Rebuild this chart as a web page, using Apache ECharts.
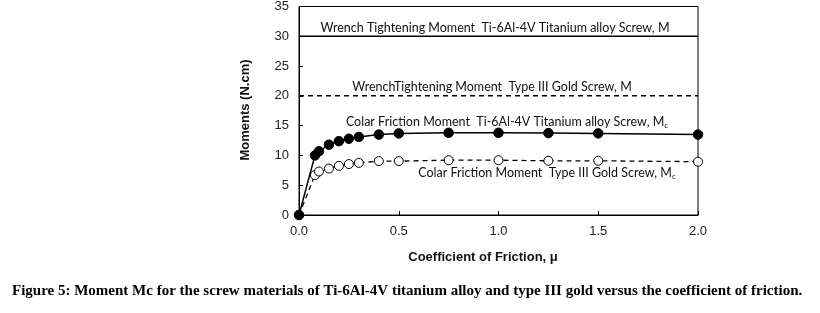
<!DOCTYPE html>
<html><head><meta charset="utf-8">
<script src="https://cdn.jsdelivr.net/npm/echarts@6/dist/echarts.min.js"></script>
<style>html,body{margin:0;padding:0;background:#fff}#c{width:820px;height:313px}</style>
</head><body><div id="c"></div>
<script>
const frictionX = [0, 0.08, 0.1, 0.15, 0.2, 0.25, 0.3, 0.4, 0.5, 0.75, 1.0, 1.25, 1.5, 2.0];
const tiColar = [0, 10.0, 10.7, 11.8, 12.4, 12.8, 13.1, 13.5, 13.7, 13.8, 13.8, 13.75, 13.7, 13.5];
const goldColar = [0, 6.7, 7.3, 7.8, 8.25, 8.55, 8.75, 9.05, 9.05, 9.2, 9.2, 9.1, 9.1, 8.95];
const wrenchX = [0, 2.0];
const tiWrench = [30, 30];
const goldWrench = [20, 20];
const xTicks = ['0.0','0.5','1.0','1.5','2.0'];
const yTicks = [0,5,10,15,20,25,30,35];

const pair = (xs, ys) => xs.map((x,i)=>[x, ys[i]]);
const chart = echarts.init(document.getElementById('c'));
const annoFont = 'Lato, "Open Sans", sans-serif';
chart.setOption({
  animation: false,
  grid: {left: 299, right: 122, top: 6, bottom: 98, show: true, borderColor: '#000', borderWidth: 1},
  xAxis: {type: 'value', min: 0, max: 2, interval: 0.5,
    axisLine: {show: true, lineStyle: {color: '#000', width: 1}},
    axisTick: {show: true, inside: true, length: 4, lineStyle: {color: '#000'}},
    splitLine: {show: false},
    axisLabel: {color: '#222', fontFamily: 'Arial, "Liberation Sans"', fontSize: 13, margin: 10,
      formatter: v => xTicks[Math.round(v/0.5)] }},
  yAxis: {type: 'value', min: 0, max: 35, interval: 5,
    axisLine: {show: true, lineStyle: {color: '#000', width: 1}},
    axisTick: {show: true, inside: true, length: 4, lineStyle: {color: '#000'}},
    splitLine: {show: false},
    axisLabel: {color: '#222', fontFamily: 'Arial, "Liberation Sans"', fontSize: 13, margin: 10,
      formatter: v => String(yTicks[Math.round(v/5)]) }},
  series: [
    {type: 'line', data: pair(wrenchX, tiWrench), symbol: 'none', lineStyle: {color: '#000', width: 1.5}},
    {type: 'line', data: pair(wrenchX, goldWrench), symbol: 'none', lineStyle: {color: '#000', width: 1.5, type: [5,4]}},
    {type: 'line', data: pair(frictionX, goldColar), symbol: 'circle', symbolSize: 9,
      itemStyle: {color: '#fff', borderColor: '#000', borderWidth: 1},
      lineStyle: {color: '#000', width: 1.3, type: [5,4]}, z: 3},
    {type: 'line', data: pair(frictionX, tiColar), symbol: 'circle', symbolSize: 9.5,
      itemStyle: {color: '#000', borderColor: '#000'},
      lineStyle: {color: '#000', width: 1.5}, z: 4}
  ],
  graphic: [
    {type: 'text', x: 495, y: 28, style: {text: 'Wrench Tightening Moment  Ti-6Al-4V Titanium alloy Screw, M', font: '12.5px ' + annoFont, fill: '#111', align: 'center', verticalAlign: 'middle'}},
    {type: 'text', x: 492, y: 87, style: {text: 'WrenchTightening Moment  Type III Gold Screw, M', font: '12.5px ' + annoFont, fill: '#111', align: 'center', verticalAlign: 'middle'}},
    {type: 'text', x: 507, y: 122, style: {text: '{n|Colar Friction Moment  Ti-6Al-4V Titanium alloy Screw, M}{s|c}', align: 'center', verticalAlign: 'middle',
      rich: {n: {font: '12.5px ' + annoFont, fill: '#111'}, s: {font: '8px ' + annoFont, fill: '#111', padding: [6,0,0,0]}}}},
    {type: 'text', x: 547, y: 173, style: {text: '{n|Colar Friction Moment  Type III Gold Screw, M}{s|c}', align: 'center', verticalAlign: 'middle',
      rich: {n: {font: '12.5px ' + annoFont, fill: '#111'}, s: {font: '8px ' + annoFont, fill: '#111', padding: [6,0,0,0]}}}},
    {type: 'text', x: 245, y: 110, rotation: Math.PI/2, style: {text: 'Moments (N.cm)', font: 'bold 13px Arial, "Liberation Sans"', fill: '#111', align: 'center', verticalAlign: 'middle'}},
    {type: 'text', x: 483, y: 257, style: {text: 'Coefficient of Friction, μ', font: 'bold 13px Arial, "Liberation Sans"', fill: '#111', align: 'center', verticalAlign: 'middle'}},
    {type: 'text', x: 12, y: 291, style: {text: 'Figure 5: Moment Mc for the screw materials of Ti-6Al-4V titanium alloy and type III gold versus the coefficient of friction.', font: 'bold 15px "Liberation Serif", serif', fill: '#000', align: 'left', verticalAlign: 'middle'}}
  ]
});
</script></body></html>
